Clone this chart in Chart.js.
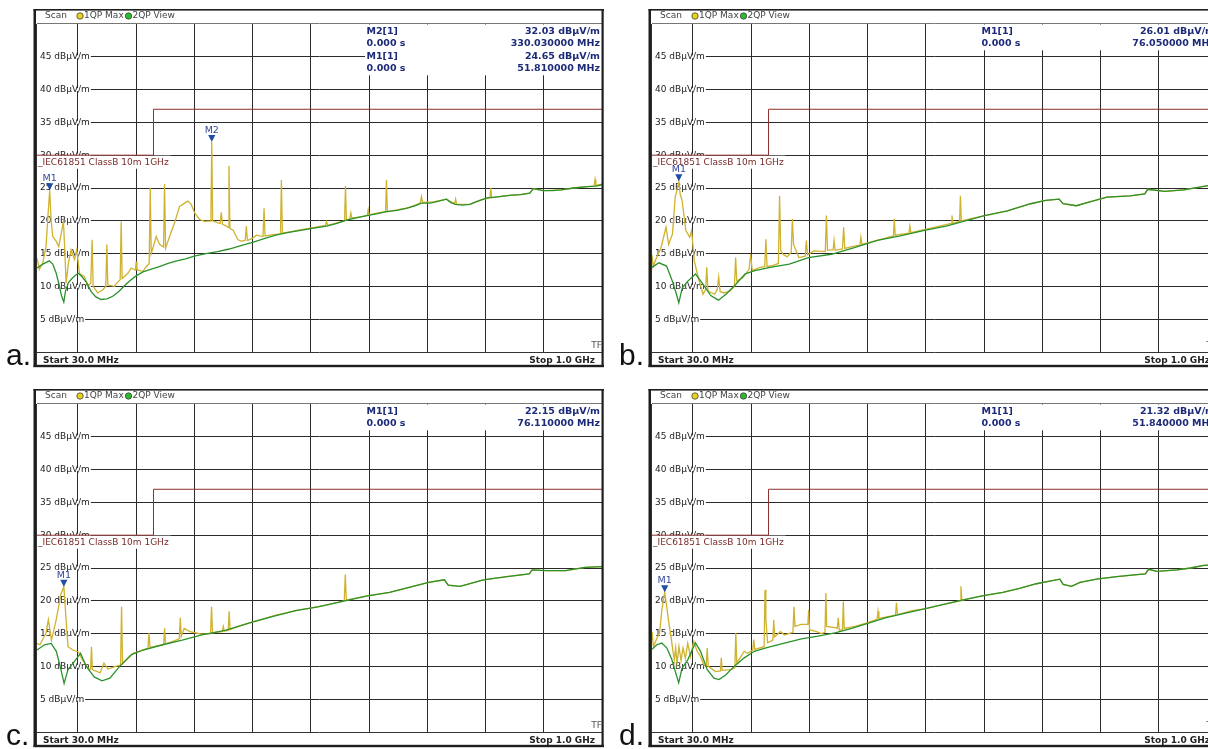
<!DOCTYPE html>
<html>
<head>
<meta charset="utf-8">
<script src="https://cdn.jsdelivr.net/npm/chart.js@4.4.1/dist/chart.umd.min.js"></script>
<style>
  html, body { margin: 0; padding: 0; background: #fff; }
  body { width: 1208px; height: 749px; overflow: hidden; position: relative; }
  .panel { position: absolute; }
  .tag { position: absolute; font: 30px "Liberation Sans", Arial, sans-serif; line-height: 30px; color: #111; }
</style>
</head>
<body>
<canvas id="chartA" class="panel" width="580" height="366" style="left:28px;top:4px"></canvas>
<canvas id="chartB" class="panel" width="580" height="366" style="left:643px;top:4px"></canvas>
<canvas id="chartC" class="panel" width="580" height="366" style="left:28px;top:384px"></canvas>
<canvas id="chartD" class="panel" width="580" height="366" style="left:643px;top:384px"></canvas>
<div class="tag" style="left:6px;top:340px">a.</div>
<div class="tag" style="left:619px;top:340px">b.</div>
<div class="tag" style="left:6px;top:720px">c.</div>
<div class="tag" style="left:619px;top:720px">d.</div>
<script>
// grid (MHz / dBuV/m)
const xGrid = [100, 200, 300, 400, 500, 600, 700, 800, 900];
const yGrid = [5, 10, 15, 20, 25, 30, 35, 40, 45];

// limit line
const limitName = '_IEC61851 ClassB 10m 1GHz';
const limitFreq = [30, 230, 230, 1000];
const limitLevel = [30, 30, 37, 37];

// a.
const freqGreenA = [30, 40, 51, 57, 63, 68, 72, 76, 79, 84, 90, 96, 101, 107, 115, 123, 131, 140, 150, 160, 170, 180, 190, 200, 212, 225, 240, 255, 270, 285, 300, 320, 340, 360, 380, 400, 420, 440, 460, 480, 500, 527, 545, 561, 580, 596, 615, 630, 648, 664, 680, 690, 705, 720, 733, 740, 748, 760, 773, 787, 802, 825, 845, 860, 876, 882, 899, 915, 930, 951, 975, 990, 1000];
const levelGreenA = [12.8, 13.4, 13.9, 13.4, 12.0, 10.2, 8.6, 7.6, 9.3, 10.6, 11.2, 11.7, 12.0, 11.5, 10.6, 9.2, 8.4, 8.0, 8.1, 8.5, 9.2, 10.1, 10.9, 11.6, 12.2, 12.6, 13.0, 13.5, 13.9, 14.2, 14.6, 15.0, 15.3, 15.7, 16.2, 16.7, 17.3, 17.8, 18.2, 18.5, 18.8, 19.2, 19.6, 20.1, 20.5, 20.8, 21.1, 21.4, 21.6, 21.9, 22.3, 22.7, 22.7, 23.0, 23.3, 22.8, 22.5, 22.4, 22.5, 23.0, 23.5, 23.7, 23.9, 24.0, 24.2, 24.9, 24.6, 24.6, 24.7, 25.0, 25.2, 25.3, 25.5];
const freqYellowA = [30, 34, 40, 45.5, 49, 51.81, 54.2, 57, 62.8, 67.3, 71.3, 75.4, 77.7, 80, 84, 88.5, 94.3, 98.3, 102.9, 111.5, 117.2, 122.3, 124.6, 126.4, 134.4, 143, 148.1, 149.9, 151.6, 163, 167, 172.8, 174.5, 176.2, 186, 191.7, 199, 200.3, 201.6, 211.7, 217.5, 222.6, 224.4, 226.1, 234.7, 240.4, 247.3, 249, 250.7, 257.6, 266.2, 274.8, 283.4, 289.1, 294.8, 300.6, 309.2, 317.8, 328.5, 330.03, 331.5, 340.7, 344.5, 346.4, 348.3, 355, 358, 359.6, 361.2, 366.5, 375, 380.8, 387.5, 389.4, 391.2, 400.9, 406.6, 418, 419.8, 421.5, 435.2, 448, 449.6, 451.2, 463.9, 481.1, 500, 525, 527, 529, 545, 558, 559.6, 561.2, 567, 568.8, 570.5, 585, 597, 598.6, 600.2, 615, 628.5, 630, 631.5, 650, 668, 688, 690, 692, 710, 733, 747, 748.7, 750.5, 773, 790, 807.5, 809, 810.5, 830, 860, 876, 882, 900, 930, 951, 975, 986.5, 988, 989.5, 1000];
const levelYellowA = [14.3, 12.6, 13.6, 16.1, 21.0, 24.65, 20.2, 17.6, 16.9, 16.1, 17.9, 19.9, 15.5, 10.5, 13.6, 15.6, 14.1, 15.6, 12.0, 11.5, 10.0, 10.5, 17.1, 10.0, 9.0, 9.5, 10.0, 16.4, 10.2, 10.0, 10.5, 11.0, 19.9, 11.2, 12.0, 12.8, 12.5, 13.8, 12.5, 12.3, 13.0, 13.5, 25.0, 15.0, 17.6, 16.4, 16.0, 25.6, 15.8, 17.6, 19.7, 22.2, 22.7, 23.0, 22.5, 21.2, 20.2, 19.9, 20.0, 32.03, 20.0, 19.7, 19.6, 21.3, 19.5, 19.2, 19.0, 28.4, 18.8, 18.6, 17.1, 16.9, 17.0, 19.2, 17.0, 17.4, 17.8, 17.6, 21.9, 17.7, 17.9, 18.0, 26.2, 18.1, 18.3, 18.6, 18.9, 19.3, 19.9, 19.3, 19.7, 20.0, 25.3, 20.1, 20.3, 21.2, 20.4, 20.6, 20.8, 21.7, 20.9, 21.2, 21.4, 26.2, 21.4, 21.7, 22.0, 22.7, 23.7, 22.8, 22.9, 23.3, 22.6, 23.3, 22.5, 22.5, 23.1, 23.5, 25.0, 23.5, 23.8, 24.0, 24.2, 24.9, 24.6, 24.7, 25.0, 25.2, 25.3, 26.3, 25.4, 25.6];
const markersA = [{name: 'M2', freq: 330.03, level: 32.03}, {name: 'M1', freq: 51.81, level: 24.65}];

// b.
const freqGreenB = [30, 42, 55, 65, 72, 76, 82, 91.5, 104.6, 117.7, 131, 144, 157, 173.6, 190, 206.5, 232.8, 265.6, 298.5, 338, 377.4, 416.8, 456.3, 495.7, 535, 568, 601, 640, 680, 706, 729, 735.6, 758.6, 778.4, 811, 850.7, 876, 881, 910, 942.7, 987, 1000];
const levelGreenB = [12.9, 13.6, 13.1, 10.8, 8.8, 7.5, 9.8, 10.8, 11.9, 10.3, 8.6, 7.9, 8.8, 10.3, 11.9, 12.4, 12.9, 13.4, 14.4, 14.9, 15.9, 17.0, 17.7, 18.5, 19.2, 20.0, 20.8, 21.5, 22.6, 23.1, 23.3, 22.6, 22.3, 22.8, 23.6, 23.8, 24.1, 24.8, 24.5, 24.7, 25.4, 25.5];
const freqYellowB = [30, 32, 35.6, 45.4, 54, 58.6, 65.2, 69.8, 72.4, 76.05, 78.3, 81.6, 88.2, 94.7, 98, 102.6, 109.2, 117.7, 122, 124, 126, 137.5, 142, 144.5, 147, 153.9, 163.8, 171.5, 173.6, 175.5, 186.8, 196.6, 199.5, 202, 215, 223.5, 225.5, 227.5, 238, 247, 249, 251, 255, 262, 269, 271, 273, 282, 293, 295, 297, 308, 327.5, 329.4, 331.3, 341, 342.6, 344.4, 357, 359, 361, 375, 387, 388.6, 390.3, 420, 444.5, 446, 447.5, 471, 472.7, 474.4, 500, 543.5, 545, 546.5, 558, 559.5, 561, 601, 640, 680, 706, 729, 735.6, 758.6, 778.4, 811, 850.7, 876, 881, 910, 942.7, 987, 1000];
const levelYellowB = [14.8, 13.0, 13.9, 15.9, 19.0, 16.4, 18.0, 23.6, 24.5, 26.01, 24.1, 23.1, 18.5, 17.5, 18.5, 13.9, 11.4, 8.8, 9.5, 12.9, 9.3, 8.8, 9.5, 11.4, 9.2, 9.0, 9.3, 10.0, 14.4, 10.8, 11.4, 12.6, 14.9, 12.4, 12.9, 13.0, 17.2, 13.0, 13.2, 13.5, 23.8, 15.5, 14.9, 14.5, 15.2, 20.3, 16.4, 14.4, 14.6, 17.0, 14.8, 15.4, 15.3, 20.8, 15.5, 15.6, 17.0, 15.5, 15.7, 19.0, 15.8, 16.1, 16.3, 17.5, 16.4, 17.1, 17.7, 20.3, 17.8, 18.1, 19.2, 18.2, 18.7, 19.6, 20.8, 19.6, 19.9, 23.8, 20.0, 20.8, 21.5, 22.6, 23.1, 23.3, 22.6, 22.3, 22.8, 23.6, 23.8, 24.1, 24.8, 24.5, 24.7, 25.4, 25.5];
const markersB = [{name: 'M1', freq: 76.05, level: 26.01}];

// c.
const freqGreenC = [30, 42.9, 54.3, 63.1, 69.8, 76.5, 83.2, 94.6, 104.7, 114.8, 128.2, 141.6, 155.1, 171.9, 192, 212.2, 245.7, 279.3, 312.9, 353.2, 393.5, 433.8, 474.1, 514.4, 554.7, 595, 635.3, 675.6, 702.4, 729.3, 736, 756.2, 796.4, 836.7, 875, 880, 903.9, 937.5, 971, 1000];
const levelGreenC = [12.5, 13.3, 13.5, 12.3, 10.0, 7.4, 9.5, 10.8, 12.0, 10.0, 8.4, 7.8, 8.2, 10.0, 11.8, 12.5, 13.3, 14.0, 14.8, 15.5, 16.6, 17.6, 18.5, 19.1, 19.9, 20.7, 21.3, 22.2, 22.8, 23.2, 22.4, 22.2, 23.2, 23.7, 24.1, 24.7, 24.6, 24.6, 25.1, 25.2];
const freqYellowC = [30, 35, 45.5, 49.5, 54.8, 62.9, 71, 76.11, 79.2, 83.2, 91.3, 101.3, 108.1, 119.5, 122, 123.5, 125, 138.3, 145, 151.7, 165.1, 173.5, 175.2, 176.9, 195.4, 220.5, 222.2, 224, 247.5, 249.1, 250.7, 274.3, 276, 277.7, 282.7, 292.7, 312.9, 328, 329.7, 331.4, 336.4, 348, 349.8, 351.5, 358.3, 359.9, 361.5, 380, 400, 420, 440, 460, 480, 500, 530, 557.5, 559.3, 561, 595, 635.3, 675.6, 702.4, 729.3, 736, 756.2, 796.4, 836.7, 875, 880, 903.9, 937.5, 971, 1000];
const levelYellowC = [13.5, 13.3, 15.1, 17.1, 14.0, 17.1, 21.0, 22.15, 18.1, 13.0, 12.5, 12.2, 11.0, 9.5, 9.6, 13.0, 9.5, 9.0, 10.5, 9.6, 10.0, 10.2, 19.1, 10.4, 12.0, 12.8, 15.1, 12.9, 13.3, 15.8, 13.4, 14.2, 17.4, 14.6, 15.8, 15.3, 14.9, 15.0, 19.1, 15.1, 15.2, 15.3, 16.1, 15.4, 15.5, 18.4, 15.6, 16.2, 16.8, 17.3, 17.8, 18.2, 18.6, 18.9, 19.4, 20.0, 24.0, 20.1, 20.7, 21.3, 22.2, 22.8, 23.2, 22.4, 22.2, 23.2, 23.7, 24.1, 24.7, 24.6, 24.6, 25.1, 25.2];
const markersC = [{name: 'M1', freq: 76.11, level: 22.15}];

// d.
const freqGreenD = [30, 38.3, 46.9, 55.6, 64.2, 71.7, 75.8, 81.5, 91.3, 104.6, 113.3, 124.8, 136.4, 145, 156.5, 171, 188.3, 205.6, 228.7, 257.5, 286.4, 315.2, 344.1, 372.9, 401.8, 430.6, 459.5, 494.1, 528.8, 560.4, 599, 632.3, 661.1, 689.9, 712.9, 730.1, 735.9, 750.3, 764.7, 793.4, 828, 862.5, 876.9, 882.6, 897, 931.5, 954.5, 977.6, 1000];
const levelGreenD = [12.6, 13.3, 13.55, 12.8, 11.0, 8.7, 7.5, 9.7, 11.0, 13.6, 12.3, 9.5, 8.2, 8.0, 8.7, 10.0, 11.3, 12.3, 12.9, 13.55, 14.2, 14.6, 15.1, 15.8, 16.6, 17.4, 18.0, 18.7, 19.4, 20.05, 20.8, 21.3, 21.9, 22.6, 23.0, 23.3, 22.5, 22.2, 22.8, 23.3, 23.7, 24.0, 24.1, 24.8, 24.5, 24.7, 25.0, 25.4, 25.5];
const freqYellowD = [30, 32.5, 38.3, 42.9, 46.9, 51.84, 54.4, 58.5, 62.5, 66, 68.3, 70.6, 72.9, 76.3, 79.8, 83.3, 87.3, 91.3, 96, 101.7, 107.5, 113.3, 119, 123, 124.8, 126.5, 139.2, 147.5, 149, 150.5, 165.2, 172.3, 173.9, 175.5, 188.3, 194, 203, 204.7, 206.4, 222.5, 224, 225.5, 228.5, 237.5, 239, 240.5, 250.6, 257.5, 272, 273.7, 275.5, 286.4, 297.5, 299, 300.5, 312.3, 321, 327, 328.5, 330, 344.1, 348, 349.8, 351.5, 357, 358.5, 360, 378.7, 401.8, 416.5, 418, 419.5, 430.6, 448, 449.7, 451.4, 476.8, 500, 528.8, 558.8, 560.4, 562, 599, 632.3, 661.1, 689.9, 712.9, 730.1, 735.9, 750.3, 764.7, 793.4, 828, 862.5, 876.9, 882.6, 897, 931.5, 954.5, 977.6, 1000];
const levelYellowD = [15.3, 13.0, 14.3, 15.1, 18.6, 21.32, 19.7, 16.9, 14.6, 12.3, 11.0, 12.8, 10.5, 13.0, 10.9, 12.8, 11.2, 13.55, 11.5, 13.8, 12.3, 11.5, 10.2, 10.0, 12.8, 10.0, 9.2, 9.3, 11.3, 9.4, 9.5, 9.8, 15.1, 10.5, 12.3, 12.0, 12.5, 14.1, 12.6, 13.0, 21.7, 17.1, 13.6, 14.0, 17.1, 14.5, 15.3, 14.8, 15.2, 19.1, 16.1, 16.4, 16.4, 18.6, 15.6, 15.3, 15.0, 15.2, 21.2, 16.1, 15.9, 15.8, 17.4, 15.5, 15.6, 19.9, 15.8, 16.1, 16.7, 17.2, 18.4, 17.3, 17.5, 17.8, 19.7, 17.9, 18.5, 18.8, 19.4, 20.0, 22.2, 20.1, 20.8, 21.3, 21.9, 22.6, 23.0, 23.3, 22.5, 22.2, 22.8, 23.3, 23.7, 24.0, 24.1, 24.8, 24.5, 24.7, 25.0, 25.4, 25.5];
const markersD = [{name: 'M1', freq: 51.84, level: 21.32}];

const FONT = '"DejaVu Sans", Verdana, sans-serif';

function points(fs, ls) {
  return fs.map((f, i) => ({x: f, y: ls[i]}));
}

const panelDecor = {
  id: 'panelDecor',
  beforeDatasetsDraw(chart, args, opts) {
    const {ctx, chartArea: a, scales: {x, y}} = chart;
    ctx.save();
    ctx.textBaseline = 'middle';

    // level labels sit on the grid lines
    ctx.font = '9px ' + FONT;
    yGrid.forEach(v => {
      const py = y.getPixelForValue(v);
      const txt = v + ' dB\u03bcV/m';
      const w = ctx.measureText(txt).width;
      ctx.fillStyle = '#fff';
      ctx.fillRect(a.left, py - 1.5, w + 4, 3);
      ctx.fillStyle = '#222';
      ctx.fillText(txt, a.left + 3, py);
    });

    // limit line name
    const y30 = y.getPixelForValue(limitLevel[0]);
    const lw = ctx.measureText(limitName).width;
    ctx.fillStyle = '#fff';
    ctx.fillRect(a.left, y30 + 0.5, lw + 3, 13);
    ctx.fillStyle = '#7a2a2a';
    ctx.fillText(limitName, a.left + 1, y30 + 7.5);

    // marker readout box
    const rows = [];
    opts.markers.forEach(m => {
      rows.push([m.name + '[1]', m.level.toFixed(2) + ' dB\u03bcV/m']);
      rows.push(['0.000 s', m.freq.toFixed(6) + ' MHz']);
    });
    const bx = x.getPixelForValue(600) - 4;
    const rowY = [7.7, 19.3, 32.7, 44.3];
    ctx.fillStyle = '#fff';
    ctx.fillRect(bx, a.top + 0.5, a.right - bx, rowY[rows.length - 1] + 6.5);
    ctx.font = 'bold 9.5px ' + FONT;
    ctx.fillStyle = '#1c2a78';
    rows.forEach((r, i) => {
      ctx.textAlign = 'left';
      ctx.fillText(r[0], bx + 1.5, a.top + rowY[i]);
      ctx.textAlign = 'right';
      ctx.fillText(r[1], a.right - 2, a.top + rowY[i]);
    });
    ctx.restore();
  },
  afterDatasetsDraw(chart, args, opts) {
    const {ctx, scales: {x, y}} = chart;
    ctx.save();
    opts.markers.forEach(m => {
      const px = x.getPixelForValue(m.freq);
      const py = y.getPixelForValue(m.level);
      ctx.fillStyle = '#1f4ea3';
      ctx.beginPath();
      ctx.moveTo(px, py);
      ctx.lineTo(px - 3.6, py - 7);
      ctx.lineTo(px + 3.6, py - 7);
      ctx.closePath();
      ctx.fill();
      ctx.font = '9.5px ' + FONT;
      ctx.fillStyle = '#34489a';
      ctx.textAlign = 'center';
      ctx.textBaseline = 'middle';
      ctx.fillText(m.name, px, py - 11.5);
    });
    ctx.restore();
  },
  afterDraw(chart) {
    const {ctx, chartArea: a} = chart;
    ctx.save();
    const top = a.top - 15, bottom = a.bottom + 15;
    const left = a.left - 3.5, right = a.right + 2;

    // header / footer separators and plot edges
    ctx.strokeStyle = '#777';
    ctx.lineWidth = 1;
    ctx.beginPath();
    ctx.moveTo(a.left, a.top - 0.5);
    ctx.lineTo(a.right, a.top - 0.5);
    ctx.stroke();
    ctx.strokeStyle = '#333';
    ctx.beginPath();
    ctx.moveTo(a.left, a.bottom + 0.5);
    ctx.lineTo(a.right, a.bottom + 0.5);
    ctx.moveTo(a.left - 0.5, a.top);
    ctx.lineTo(a.left - 0.5, bottom - 2);
    ctx.stroke();

    // outer frame
    ctx.fillStyle = '#1e1e1e';
    ctx.fillRect(left, top, right - left, 1.6);
    ctx.fillRect(left, top, 2.5, bottom - top);
    ctx.fillRect(a.right - 0.5, top, 2.2, bottom - top);
    ctx.fillRect(left, bottom - 2.2, right - left, 2.4);

    // header: trace legend
    ctx.textBaseline = 'middle';
    ctx.font = '9px ' + FONT;
    ctx.fillStyle = '#444';
    const hy = a.top - 8;
    ctx.fillText('Scan', a.left + 8, hy);
    [[a.left + 43, '#e9d21c', '1QP Max'], [a.left + 91.5, '#2dbb2d', '2QP View']].forEach(([cx, col, txt]) => {
      ctx.beginPath();
      ctx.arc(cx, hy, 3.2, 0, Math.PI * 2);
      ctx.fillStyle = col;
      ctx.fill();
      ctx.strokeStyle = '#444';
      ctx.lineWidth = 0.8;
      ctx.stroke();
      ctx.fillStyle = '#444';
      ctx.fillText(txt, cx + 4, hy);
    });

    // TF flag
    ctx.textAlign = 'right';
    ctx.fillStyle = '#555';
    ctx.fillText('TF', a.right, a.bottom - 6);

    // footer: span
    ctx.font = 'bold 9px ' + FONT;
    ctx.fillStyle = '#222';
    ctx.textBaseline = 'alphabetic';
    ctx.textAlign = 'left';
    ctx.fillText('Start 30.0 MHz', a.left + 6, a.bottom + 10.5);
    ctx.textAlign = 'right';
    ctx.fillText('Stop 1.0 GHz', a.right - 7, a.bottom + 10.5);
    ctx.restore();
  }
};

function drawPanel(canvasId, greenF, greenL, yellowF, yellowL, markers) {
  new Chart(document.getElementById(canvasId), {
    type: 'line',
    data: {
      datasets: [
        {label: '2QP View', data: points(greenF, greenL), borderColor: '#2b922b', borderWidth: 1.3, pointRadius: 0},
        {label: '1QP Max', data: points(yellowF, yellowL), borderColor: '#cfb22e', borderWidth: 1.3, pointRadius: 0},
        {label: limitName, data: points(limitFreq, limitLevel), borderColor: '#8b3030', borderWidth: 1, pointRadius: 0}
      ]
    },
    options: {
      responsive: false,
      animation: false,
      events: [],
      layout: {padding: {left: 9, top: 20, right: 6, bottom: 18}},
      scales: {
        x: {
          type: 'linear', min: 30, max: 1000,
          afterBuildTicks: s => { s.ticks = xGrid.map(v => ({value: v})); },
          ticks: {display: false},
          grid: {color: '#2a2a2a', lineWidth: 1, drawTicks: false},
          border: {display: false}
        },
        y: {
          min: 0, max: 50,
          afterBuildTicks: s => { s.ticks = yGrid.map(v => ({value: v})); },
          ticks: {display: false},
          grid: {color: '#2a2a2a', lineWidth: 1, drawTicks: false},
          border: {display: false}
        }
      },
      plugins: {
        legend: {display: false},
        tooltip: {enabled: false},
        panelDecor: {markers: markers}
      }
    },
    plugins: [panelDecor]
  });
}

drawPanel('chartA', freqGreenA, levelGreenA, freqYellowA, levelYellowA, markersA);
drawPanel('chartB', freqGreenB, levelGreenB, freqYellowB, levelYellowB, markersB);
drawPanel('chartC', freqGreenC, levelGreenC, freqYellowC, levelYellowC, markersC);
drawPanel('chartD', freqGreenD, levelGreenD, freqYellowD, levelYellowD, markersD);
</script>
</body>
</html>
